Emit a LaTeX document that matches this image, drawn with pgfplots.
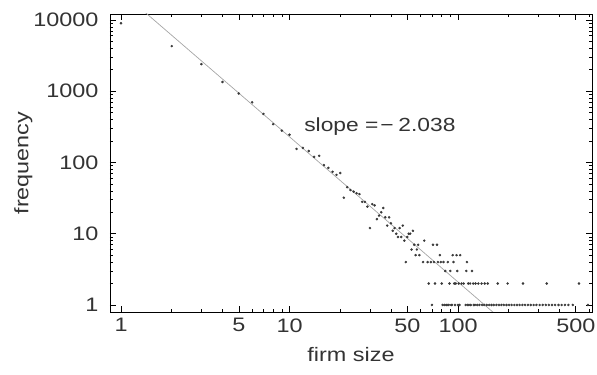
\documentclass[border=0pt]{standalone}
\usepackage{fontspec}
\setmainfont{Liberation Sans}[FakeStretch=1.2]
\usepackage{pgfplots}
\pgfplotsset{compat=1.18}
\definecolor{txt}{gray}{0.2}
\begin{document}
\begin{tikzpicture}
\begin{axis}[
  name=ax,
  scale only axis,
  width=482pt, height=298pt,
  xmode=log, ymode=log,
  xmin=0.86, xmax=624,
  ymin=0.797, ymax=12140,
  xtick={1,5,10,50,100,500},
  xticklabels={1,5,10,50,100,500},
  ytick={1,10,100,1000,10000},
  yticklabels={1,10,100,1000,10000},
  minor xtick={2,3,4,6,7,8,9,20,30,40,60,70,80,90,200,300,400,600},
  minor ytick={2,3,4,5,6,7,8,9,20,30,40,50,60,70,80,90,200,300,400,500,600,700,800,900,2000,3000,4000,5000,6000,7000,8000,9000},
  tick align=inside,
  major tick length=6pt,
  minor tick length=3pt,
  every tick/.style={black, line width=0.6pt},
  axis line style={black, line width=0.9pt},
  ticklabel style={font=\fontsize{19.5}{19.5}\selectfont, text=txt},
  yticklabel style={xshift=-8pt},
  xticklabel style={yshift=-3pt},
  xlabel={firm size},
  ylabel={frequency},
  label style={font=\fontsize{19.5}{19.5}\selectfont, text=txt},
  xlabel style={yshift=-8pt},
  ylabel style={yshift=-6pt},
  clip=true,
]
% fitted line, slope -2.038
\addplot[gray!70, line width=0.7pt] coordinates {(1.2,17260) (200,0.511)};
\addplot[only marks, mark=*, mark size=1.05pt, color=black!78] coordinates {
(1,9000) (2,4300) (3,2400) (4,1350) (5,930) (6,700) (7,480) (8,345) (9,280) (10,245)
(11,155) (12,160) (13,145) (14,120) (15,124) (16,92) (17,84) (18,74) (19,67) (20,71)
(21,32) (22,45) (23,41) (24,39) (25,37) (26,36) (27,28) (28,28) (29,24) (30,12)
(31,26) (32,25) (33,16) (34,18) (35,20) (36,23) (37,17) (38,13) (39,17) (40,14)
(41,11) (42,12) (43,10) (44,9) (45,12) (46,9) (47,13) (48,8) (49,4) (50,9)
(51,10) (52,10) (53,6) (54,11) (55,7) (56,5) (57,6) (58,7) (59,5) (63,8)
(71,7) (75,7)
(78,5) (93,5) (98,5) (103,5)
(62,4) (66,4) (69,4) (72,4) (76,4) (79,4) (82,4) (87,4) (94,4) (113,4)
(84,3) (90,3) (99,3) (112,3) (121,3)
(67,2) (73,2) (80,2) (89,2) (95,2) (97,2) (101,2) (105,2) (108,2) (115,2) (118,2)
(123,2) (127,2) (132,2) (138,2) (144,2) (150,2) (172,2) (197,2) (243,2) (336,2) (522,2)
(70,1) (81,1) (83,1) (85,1) (86,1) (88,1) (91,1) (92,1) (96,1) (100,1) (102,1)
(111,1) (114,1) (116,1) (119,1) (124,1) (126,1) (130,1) (134,1) (139,1) (143,1)
(148,1) (153,1) (158,1) (163,1) (169,1) (175,1) (181,1) (187,1) (194,1) (201,1)
(208,1) (216,1) (224,1) (232,1) (241,1) (250,1) (260,1) (270,1) (281,1) (292,1)
(305,1) (318,1) (332,1) (346,1) (361,1) (377,1) (395,1) (412,1) (431,1) (452,1)
(480,1) (590,1)
};
\node[text=txt, font=\fontsize{19}{19}\selectfont] at (axis cs:34.4,315) {slope =\kern0.1em−\kern0.25em2.038};
\end{axis}
\pgfresetboundingbox
\path ([xshift=-110pt,yshift=-63pt]ax.south west) rectangle ([xshift=5pt,yshift=14pt]ax.north east);
\end{tikzpicture}
\end{document}
